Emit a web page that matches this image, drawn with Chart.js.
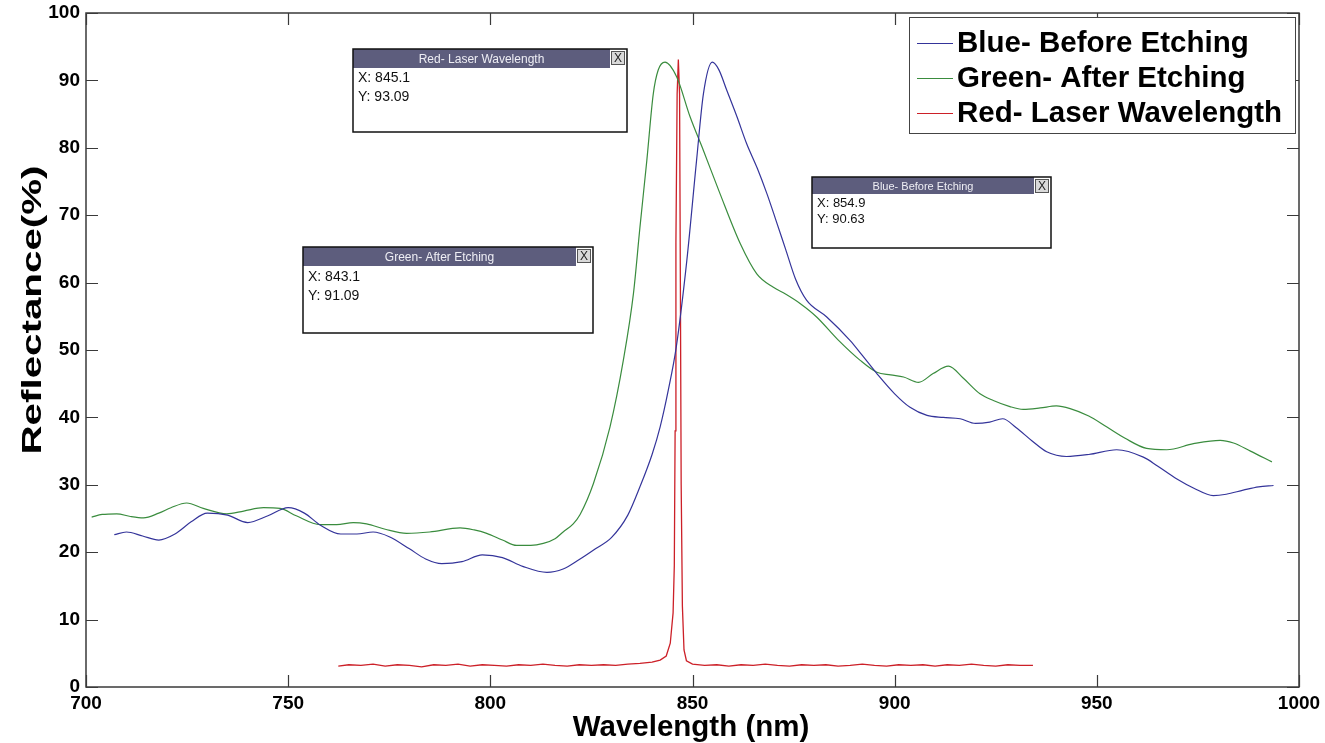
<!DOCTYPE html>
<html><head><meta charset="utf-8">
<script src="https://cdn.jsdelivr.net/npm/chart.js@4/dist/chart.umd.min.js"></script>
<style>html,body{margin:0;padding:0;background:#fff;}#wrap{width:1325px;height:743px;}</style>
</head><body><div id="wrap"><canvas id="c" width="1325" height="743"></canvas></div>
<script>
// ---------- data ----------
const seriesLabels = ['Blue- Before Etching', 'Green- After Etching', 'Red- Laser Wavelength'];
const xTickValues = [700, 750, 800, 850, 900, 950, 1000];
const yTickValues = [0, 10, 20, 30, 40, 50, 60, 70, 80, 90, 100];

const blueX = [707, 710, 714, 718, 722, 726, 730, 735, 740, 745, 750, 754, 758, 763, 767, 771, 775, 780, 784, 788, 793, 798, 803, 808, 814, 818, 822, 826, 830, 834, 837, 840, 842, 844, 846, 848.6, 851, 852.7, 854.9, 856.5, 858.5, 861, 863.4, 866, 868.4, 870.5, 873, 875.5, 878.2, 883.2, 889, 892, 895.6, 900, 903.8, 908, 912, 916.2, 920, 923.5, 926.7, 930, 934, 937.6, 942.5, 948, 954.9, 961.5, 965, 969.7, 974, 978.8, 982, 986.2, 990, 993.7];
const blueY = [22.6, 23.0, 22.4, 21.8, 22.7, 24.5, 25.8, 25.5, 24.4, 25.4, 26.6, 25.8, 24.0, 22.7, 22.7, 23.0, 22.3, 20.5, 19.0, 18.3, 18.6, 19.6, 19.2, 17.9, 17.0, 17.5, 18.9, 20.5, 22.2, 25.5, 29.7, 34.5, 38.6, 44.0, 50.5, 63.3, 78.1, 88.0, 92.7, 91.6, 88.5, 84.6, 80.6, 77.0, 73.2, 69.5, 65.0, 60.5, 57.4, 54.9, 51.4, 49.2, 46.5, 43.5, 41.5, 40.3, 40.0, 39.8, 39.1, 39.3, 39.8, 38.5, 36.5, 34.9, 34.2, 34.5, 35.2, 34.1, 32.8, 30.9, 29.5, 28.4, 28.6, 29.2, 29.7, 29.9];

const greenX = [701.4, 704, 707.6, 711, 714.2, 718, 721, 724.9, 729, 734.8, 739, 743.9, 748, 752, 757.9, 762, 766.1, 769.4, 774, 779.3, 785, 792.5, 796, 799.1, 803, 806.5, 810, 813.1, 816, 818, 820.5, 822.2, 825.5, 829.6, 832.9, 835.4, 837, 838.7, 840.3, 841.5, 843.2, 846.1, 849.4, 852.7, 856.8, 861.8, 865.9, 870, 873, 876.6, 880.7, 886, 891.4, 895.6, 899, 902.2, 905.9, 909.5, 913.3, 917, 921.1, 924.4, 928.5, 931.8, 936, 940, 943.4, 948, 952.4, 957, 962.3, 967.3, 973.9, 980.5, 983.8, 988, 993.3];
const greenY = [25.2, 25.6, 25.7, 25.3, 25.1, 25.8, 26.6, 27.3, 26.5, 25.7, 26.1, 26.6, 26.5, 25.4, 24.1, 24.1, 24.4, 24.2, 23.4, 22.8, 23.0, 23.6, 23.3, 22.8, 21.8, 21.0, 21.0, 21.3, 22.0, 23.0, 24.2, 25.6, 30.2, 38.6, 48.5, 58.4, 68.2, 78.1, 88.0, 91.5, 92.7, 90.5, 84.6, 79.6, 73.2, 65.8, 61.3, 59.3, 58.3, 56.9, 54.9, 51.5, 48.5, 46.7, 46.3, 46.0, 45.2, 46.5, 47.6, 45.8, 43.5, 42.5, 41.6, 41.2, 41.4, 41.7, 41.3, 40.2, 38.6, 36.9, 35.4, 35.2, 36.1, 36.6, 36.2, 35.0, 33.4];

const redX = [762.4, 765, 768, 771, 774, 777, 780, 783, 786, 789, 792, 795, 798, 801, 804, 807, 810, 813, 816, 819, 822, 825, 828, 831, 834, 837, 840, 842, 843.5, 844.5, 845.2, 845.5, 845.7, 845.9, 846.2, 846.5, 846.8, 847.0, 847.2, 847.5, 847.9, 848.5, 850, 853, 856, 859, 862, 865, 868, 871, 874, 877, 880, 883, 886, 889, 892, 895, 898, 901, 904, 907, 910, 913, 916, 919, 922, 925, 928, 931, 934.2];
const redY = [3.1, 3.3, 3.2, 3.4, 3.1, 3.3, 3.2, 3.0, 3.3, 3.2, 3.4, 3.1, 3.3, 3.2, 3.1, 3.3, 3.2, 3.4, 3.2, 3.1, 3.3, 3.2, 3.3, 3.2, 3.4, 3.5, 3.7, 4.0, 4.6, 6.5, 11.0, 18.0, 38.0, 66.0, 88.0, 93.09, 88.0, 60.0, 30.0, 12.0, 5.5, 3.9, 3.4, 3.2, 3.3, 3.1, 3.3, 3.2, 3.4, 3.2, 3.1, 3.3, 3.2, 3.3, 3.1, 3.2, 3.4, 3.2, 3.1, 3.3, 3.2, 3.3, 3.1, 3.3, 3.2, 3.4, 3.2, 3.1, 3.3, 3.2, 3.2];

const tipTitles = ['Red- Laser Wavelength', 'Green- After Etching', 'Blue- Before Etching'];
const tipX = ['845.1', '843.1', '854.9'];
const tipY = ['93.09', '91.09', '90.63'];

// ---------- chart ----------
const FONT = '"Liberation Sans", Arial, sans-serif';
const pts = (xs, ys) => xs.map((x, i) => ({x: x, y: ys[i]}));
const colors = ['#34349a', '#3a8c3e', '#cc2028'];

const framePlugin = {
  id: 'frame',
  afterDatasetsDraw(chart) {
    const {ctx, chartArea: a, scales: {x, y}} = chart;
    ctx.save();
    ctx.strokeStyle = '#3a3a3a';
    ctx.lineWidth = 1.5;
    ctx.strokeRect(a.left, a.top, a.right - a.left, a.bottom - a.top);
    ctx.lineWidth = 1.2;
    ctx.beginPath();
    xTickValues.forEach(v => {
      const p = Math.round(x.getPixelForValue(v)) + 0.5;
      ctx.moveTo(p, a.bottom); ctx.lineTo(p, a.bottom - 12);
      ctx.moveTo(p, a.top); ctx.lineTo(p, a.top + 12);
    });
    yTickValues.forEach(v => {
      const p = Math.round(y.getPixelForValue(v)) + 0.5;
      ctx.moveTo(a.left, p); ctx.lineTo(a.left + 12, p);
      ctx.moveTo(a.right, p); ctx.lineTo(a.right - 12, p);
    });
    ctx.stroke();

    // axis titles
    ctx.fillStyle = '#000';
    ctx.font = 'bold 29.5px ' + FONT;
    ctx.textAlign = 'center';
    ctx.textBaseline = 'alphabetic';
    ctx.fillText('Wavelength (nm)', 691, 736);
    ctx.save();
    ctx.translate(41, 310);
    ctx.rotate(-Math.PI / 2);
    ctx.scale(1.44, 1);
    ctx.font = 'bold 28px ' + FONT;
    ctx.fillText('Reflectance(%)', 0, 0);
    ctx.restore();

    // data tips
    const drawTip = (L, T, R, B, hh, title, xs, ys, fs, tf, ly1, ly2) => {
      ctx.fillStyle = '#fff';
      ctx.fillRect(L, T, R - L, B - T);
      ctx.fillStyle = '#5d5d7d';
      ctx.fillRect(L, T, R - L - 17, hh);
      ctx.strokeStyle = '#111';
      ctx.lineWidth = 1.5;
      ctx.strokeRect(L, T, R - L, B - T);
      const bx = R - 16, by = T + 2, bs = 14;
      ctx.fillStyle = '#d9d9d9';
      ctx.fillRect(bx, by, bs, bs);
      ctx.strokeStyle = '#555';
      ctx.lineWidth = 1;
      ctx.strokeRect(bx + 0.5, by + 0.5, bs - 1, bs - 1);
      ctx.fillStyle = '#222';
      ctx.font = '12px ' + FONT;
      ctx.textAlign = 'center';
      ctx.textBaseline = 'middle';
      ctx.fillText('X', bx + bs / 2, by + bs / 2 + 1);
      ctx.fillStyle = '#eeeef4';
      ctx.font = tf + 'px ' + FONT;
      ctx.fillText(title, (L + R - 17) / 2, T + hh / 2 + 1);
      ctx.fillStyle = '#111';
      ctx.font = fs + 'px ' + FONT;
      ctx.textAlign = 'left';
      ctx.fillText('X: ' + xs, L + 5, ly1);
      ctx.fillText('Y: ' + ys, L + 5, ly2);
    };
    drawTip(353, 49, 627, 132, 19, tipTitles[0], tipX[0], tipY[0], 14, 12, 78, 97);
    drawTip(303, 247, 593, 333, 19, tipTitles[1], tipX[1], tipY[1], 14, 12, 277, 296);
    drawTip(812, 177, 1051, 248, 17, tipTitles[2], tipX[2], tipY[2], 13, 11, 203, 219);

    // legend
    ctx.fillStyle = '#fff';
    ctx.fillRect(909, 17, 386, 116);
    ctx.strokeStyle = '#444';
    ctx.lineWidth = 1;
    ctx.strokeRect(909.5, 17.5, 386, 116);
    const rows = [43, 78, 113];
    chart.data.datasets.forEach((ds, i) => {
      ctx.strokeStyle = ds.borderColor;
      ctx.lineWidth = 1.2;
      ctx.beginPath();
      ctx.moveTo(917, rows[i] + 0.5); ctx.lineTo(953, rows[i] + 0.5);
      ctx.stroke();
      ctx.fillStyle = '#000';
      ctx.font = 'bold 29.5px ' + FONT;
      ctx.textAlign = 'left';
      ctx.textBaseline = 'middle';
      ctx.fillText(ds.label, 957, rows[i] + 1);
    });
    ctx.restore();
  }
};

new Chart(document.getElementById('c'), {
  type: 'line',
  data: {
    datasets: [
      {label: seriesLabels[0], data: pts(blueX, blueY), borderColor: colors[0], borderWidth: 1.2, pointRadius: 0, cubicInterpolationMode: 'monotone', fill: false},
      {label: seriesLabels[1], data: pts(greenX, greenY), borderColor: colors[1], borderWidth: 1.2, pointRadius: 0, cubicInterpolationMode: 'monotone', fill: false},
      {label: seriesLabels[2], data: pts(redX, redY), borderColor: colors[2], borderWidth: 1.3, pointRadius: 0, tension: 0, fill: false}
    ]
  },
  options: {
    responsive: false,
    animation: false,
    devicePixelRatio: 1,
    layout: {padding: {top: 13, right: 26, left: 0, bottom: 0}},
    plugins: {legend: {display: false}, tooltip: {enabled: false}, title: {display: false}},
    scales: {
      x: {
        type: 'linear', min: 700, max: 1000,
        afterBuildTicks: s => { s.ticks = xTickValues.map(v => ({value: v})); },
        afterFit: s => { s.height = 56; s.paddingLeft = 0; s.paddingRight = 0; },
        grid: {display: false, drawTicks: false},
        border: {display: false},
        ticks: {color: '#000', padding: 5, maxRotation: 0, callback: v => String(v), font: {family: FONT, size: 19, weight: 'bold'}}
      },
      y: {
        type: 'linear', min: 0, max: 100,
        afterBuildTicks: s => { s.ticks = yTickValues.map(v => ({value: v})); },
        afterFit: s => { s.width = 86; s.paddingTop = 0; s.paddingBottom = 0; },
        grid: {display: false, drawTicks: false},
        border: {display: false},
        ticks: {color: '#000', padding: 6, callback: v => String(v), font: {family: FONT, size: 19, weight: 'bold'}}
      }
    }
  },
  plugins: [framePlugin]
});
</script>
</body></html>
